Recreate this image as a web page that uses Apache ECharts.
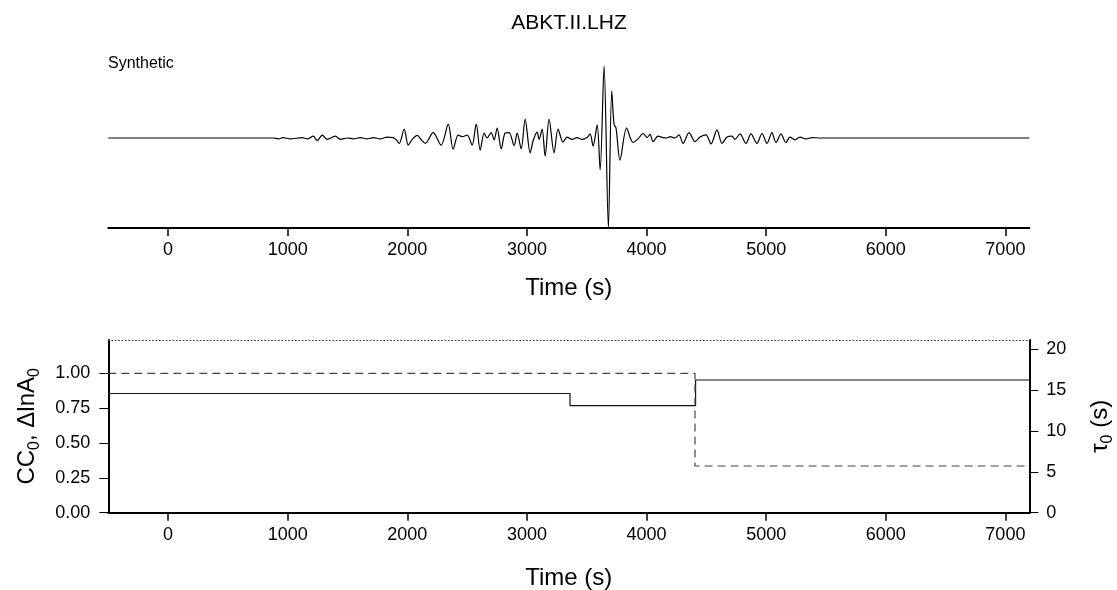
<!DOCTYPE html>
<html><head><meta charset="utf-8">
<script src="https://cdn.jsdelivr.net/npm/echarts@6/dist/echarts.min.js"></script>
<style>html,body{margin:0;padding:0;background:#fff}#c{width:1117px;height:590px}</style>
</head><body><div id="c"></div>
<script>
const chartTitle = 'ABKT.II.LHZ';
const traceLabel = 'Synthetic';
const xTicks = [0, 1000, 2000, 3000, 4000, 5000, 6000, 7000];
const ccTicks = [0, 0.25, 0.5, 0.75, 1.0];
const tauTicks = [0, 5, 10, 15, 20];

const waveTime = [-500, 880, 921, 963, 1022, 1122, 1164, 1214, 1247, 1289, 1331, 1398, 1440, 1498, 1548, 1607, 1665, 1715, 1774, 1832, 1882, 1907, 1932, 1974, 2008, 2041, 2083, 2117, 2150, 2216, 2283, 2342, 2383, 2425, 2459, 2501, 2542, 2576, 2609, 2642, 2667, 2701, 2726, 2751, 2785, 2818, 2851, 2893, 2918, 2952, 2985, 3027, 3052, 3085, 3102, 3127, 3152, 3185, 3227, 3260, 3302, 3336, 3378, 3419, 3461, 3503, 3528, 3553, 3587, 3612, 3645, 3681, 3709, 3728, 3745, 3778, 3833, 3887, 3929, 3971, 4004, 4029, 4054, 4096, 4137, 4171, 4196, 4238, 4271, 4305, 4355, 4405, 4447, 4497, 4539, 4589, 4631, 4673, 4714, 4739, 4781, 4831, 4873, 4923, 4965, 5007, 5048, 5082, 5124, 5165, 5199, 5241, 5282, 5332, 5383, 5449, 7200];
const waveAmp = [0, 0, -0.01, 0.005, -0.01, 0.005, -0.01, 0.02, -0.03, 0.033, -0.015, 0.02, -0.015, 0, -0.01, 0.005, -0.01, 0.005, -0.01, 0.01, 0.005, -0.02, -0.06, 0.1, -0.08, -0.015, 0.03, -0.02, -0.06, 0.06, -0.08, 0.155, -0.125, 0.033, 0.015, 0.033, -0.08, 0.155, -0.135, 0.055, 0, 0.06, -0.02, 0.11, -0.12, 0.055, 0.06, -0.085, 0.055, -0.12, 0.21, -0.165, -0.03, 0.065, -0.015, 0.1, -0.2, 0.21, -0.165, 0.1, -0.045, 0.01, -0.015, 0.005, -0.015, 0.005, 0.045, -0.09, 0.145, -0.355, 0.8, -1.0, 0.525, 0.155, 0.11, -0.245, 0.11, -0.05, -0.01, 0.05, 0.005, 0.04, -0.04, 0.02, 0.005, 0, 0.015, 0, 0.035, -0.06, 0.06, -0.04, 0.01, 0.035, -0.065, 0.09, -0.06, 0.01, 0.02, -0.015, 0.045, -0.06, 0.045, -0.06, 0.05, -0.06, 0.06, -0.05, 0.045, -0.05, 0.01, -0.02, 0.01, -0.01, 0.005, 0, 0];

const solidTime = [-500, 3360, 4410, 7200];
const solidValue = [0.855, 0.768, 0.952, 0.952];
const dashedTime = [-500, 4405, 7200];
const dashedValue = [1.0, 0.335, 0.335];

const FONT = '"Liberation Sans", Arial, Helvetica, sans-serif';
const zip = (a, b) => a.map((v, i) => [v, b[i]]);

function timeAxis(gridIndex, gap) {
  return {
    type: 'value', gridIndex: gridIndex, min: -500, max: 7200,
    splitLine: { show: false },
    axisLine: { show: true, onZero: false, lineStyle: { color: '#000', width: 2 } },
    axisTick: { show: true, customValues: xTicks, length: 8, lineStyle: { color: '#000', width: 1.5 } },
    axisLabel: { customValues: xTicks, margin: 13, fontSize: 18, color: '#000', fontFamily: FONT, formatter: v => String(v) },
    name: 'Time (s)', nameLocation: 'middle', nameGap: gap,
    nameTextStyle: { fontSize: 24, color: '#000', fontFamily: FONT }
  };
}

const chart = echarts.init(document.getElementById('c'), null, { renderer: 'canvas' });
chart.setOption({
  animation: false,
  backgroundColor: '#fff',
  grid: [
    { left: 108.3, right: 87.7, top: 48, bottom: 362, containLabel: false, outerBoundsMode: 'none' },
    { left: 108.3, right: 87.7, top: 340, bottom: 77.3, containLabel: false, outerBoundsMode: 'none' }
  ],
  graphic: [
    { type: 'text', x: 569, y: 23.5, style: { text: chartTitle, font: '21px ' + FONT, fill: '#000', align: 'center', verticalAlign: 'middle', textAlign: 'center', textVerticalAlign: 'middle' } },
    { type: 'text', x: 108, y: 64, style: { text: traceLabel, font: '16px ' + FONT, fill: '#000', align: 'left', verticalAlign: 'middle', textAlign: 'left', textVerticalAlign: 'middle' } }
  ],
  xAxis: [
    timeAxis(0, 48),
    timeAxis(1, 54),
    { type: 'value', gridIndex: 1, position: 'top', min: -500, max: 7200,
      splitLine: { show: false }, axisTick: { show: false }, axisLabel: { show: false },
      axisLine: { show: true, onZero: false, lineStyle: { color: '#444', width: 1, type: [1, 2.4] } } }
  ],
  yAxis: [
    { type: 'value', gridIndex: 0, min: -1, max: 1, show: false },
    { type: 'value', gridIndex: 1, position: 'left', min: 0, max: 1.239,
      splitLine: { show: false },
      axisLine: { show: true, onZero: false, lineStyle: { color: '#000', width: 2 } },
      axisTick: { show: true, customValues: ccTicks, length: 9, lineStyle: { color: '#000', width: 1 } },
      axisLabel: { customValues: ccTicks, margin: 18, fontSize: 18, color: '#000', fontFamily: FONT, formatter: v => v.toFixed(2) },
      name: '{m|CC}{s|0}{m|, ΔlnA}{s|0}', nameLocation: 'middle', nameRotate: 90, nameGap: 66,
      nameTextStyle: { color: '#000', rich: {
        m: { fontSize: 24, lineHeight: 30, fontFamily: FONT, color: '#000' },
        s: { fontSize: 16, lineHeight: 16, verticalAlign: 'bottom', fontFamily: FONT, color: '#000' } } } },
    { type: 'value', gridIndex: 1, position: 'right', min: 0, max: 21.14,
      splitLine: { show: false },
      axisLine: { show: true, onZero: false, lineStyle: { color: '#000', width: 2 } },
      axisTick: { show: true, customValues: tauTicks, length: 9, lineStyle: { color: '#000', width: 1 } },
      axisLabel: { customValues: tauTicks, margin: 17, fontSize: 18, color: '#000', fontFamily: FONT },
      name: '{m|τ}{s|0}{m| (s)}', nameLocation: 'middle', nameRotate: 90, nameGap: 56,
      nameTextStyle: { color: '#000', rich: {
        m: { fontSize: 24, lineHeight: 30, fontFamily: FONT, color: '#000' },
        s: { fontSize: 16, lineHeight: 16, verticalAlign: 'bottom', fontFamily: FONT, color: '#000' } } } }
  ],
  series: [
    { type: 'line', xAxisIndex: 0, yAxisIndex: 0, data: zip(waveTime, waveAmp),
      showSymbol: false, smooth: 0.3, clip: true, lineStyle: { color: '#000', width: 1.2 } },
    { type: 'line', xAxisIndex: 1, yAxisIndex: 1, data: zip(solidTime, solidValue), step: 'end',
      showSymbol: false, lineStyle: { color: '#111', width: 1.2 } },
    { type: 'line', xAxisIndex: 1, yAxisIndex: 1, data: zip(dashedTime, dashedValue), step: 'end',
      showSymbol: false, lineStyle: { color: '#444', width: 1.2, type: [8, 5] } }
  ]
});
</script></body></html>
